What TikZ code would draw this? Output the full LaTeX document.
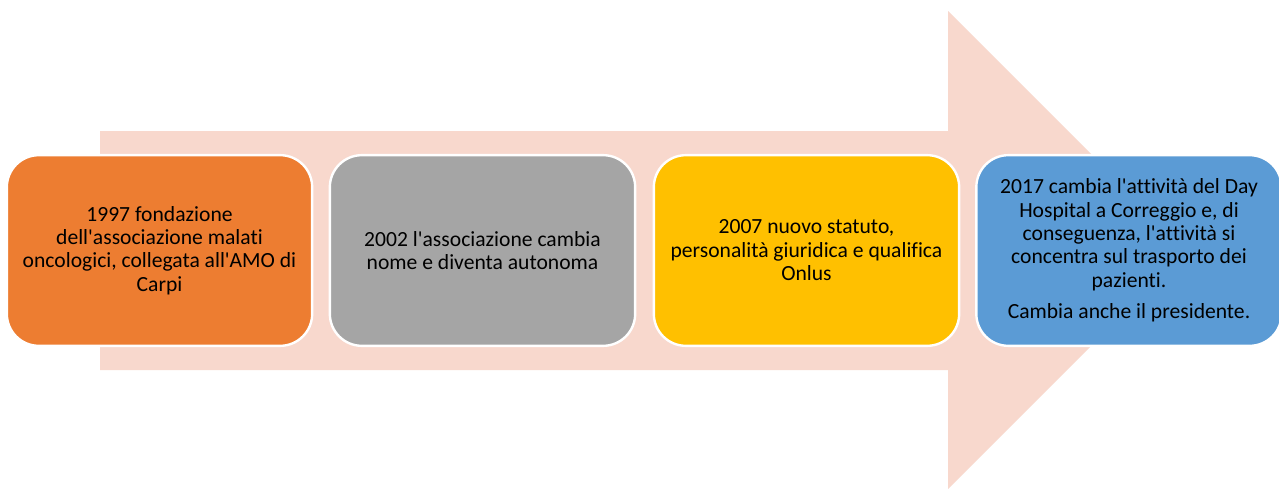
\documentclass[tikz,border=0pt]{standalone}
\usepackage{fontspec}
\setmainfont{Carlito}[Ligatures={NoCommon},Mapping=]
\definecolor{arrowfill}{HTML}{F8D8CD}
\definecolor{c1}{HTML}{ED7D31}
\definecolor{c2}{HTML}{A5A5A5}
\definecolor{c3}{HTML}{FFC000}
\definecolor{c4}{HTML}{5B9BD5}
\newcommand{\ap}{\char"27\relax}
\begin{document}
\begin{tikzpicture}[x=0.75pt,y=-0.75pt,
  stagebox/.style={draw=white,line width=1.8pt,rounded corners=24pt,
    minimum width=229pt,minimum height=143pt,inner sep=0pt,
    align=center,font=\fontsize{16.2}{17.6}\selectfont,text=black}]
\useasboundingbox (0,0) rectangle (1279,489);
\fill[white] (0,0) rectangle (1279,489);
% big arrow
\fill[arrowfill] (100,131) -- (948,131) -- (948,11) -- (1187,250) -- (948,489) -- (948,370) -- (100,370) -- cycle;
\node[stagebox,fill=c1] (s1) at (159.5,250.5) {1997 fondazione\\dell\ap associazione malati\\oncologici, collegata all\ap AMO di\\Carpi};
\node[stagebox,fill=c2] (s2) at (482.5,250.5) {2002 l\ap associazione cambia\\nome e diventa autonoma};
\node[stagebox,fill=c3] (s3) at (806.5,250.5) {2007 nuovo statuto,\\personalità giuridica e qualifica\\Onlus};
\node[stagebox,fill=c4,minimum width=229pt] (s4) at (1129,250.5) {2017 cambia l\ap attività del Day\\Hospital a Correggio e, di\\conseguenza, l\ap attività si\\concentra sul trasporto dei\\pazienti.\\[6pt]Cambia anche il presidente.};
\end{tikzpicture}
\end{document}
